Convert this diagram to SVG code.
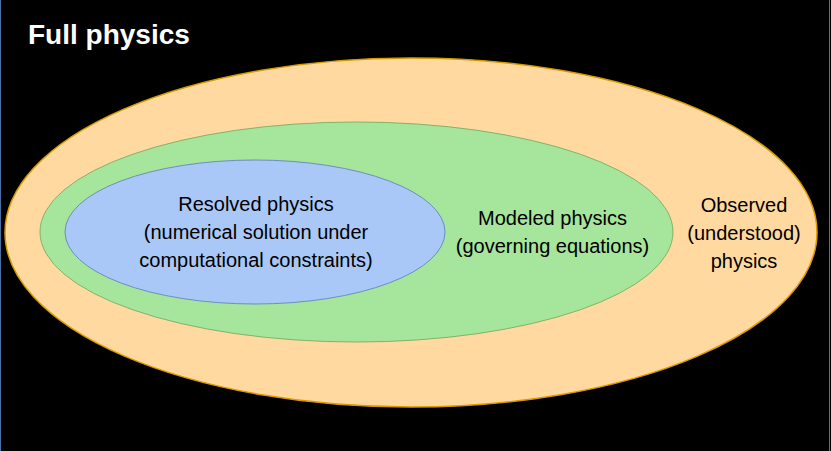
<svg xmlns="http://www.w3.org/2000/svg" width="831" height="451" viewBox="0 0 831 451">
<style>
text{font-family:"Liberation Sans",Arial,sans-serif;font-size:20px;fill:#000;text-anchor:middle}
.title{font-size:28px;font-weight:bold;fill:#fff;text-anchor:start}
</style>
<rect x="0" y="0" width="831" height="451" fill="#000"/>
<line x1="0.5" y1="0" x2="0.5" y2="451" stroke="#4a6fa5" stroke-width="1"/>
<line x1="829.5" y1="0" x2="829.5" y2="451" stroke="#4a6fa5" stroke-width="1"/>
<text class="title" x="28" y="44">Full physics</text>
<g id="observed">
<ellipse cx="411" cy="232.5" rx="406" ry="174.5" fill="#ffd9a0" stroke="#d79b00" stroke-width="1.5"/>
<text x="744" y="212">Observed</text>
<text x="744" y="240">(understood)</text>
<text x="744" y="268">physics</text>
</g>
<g id="modeled">
<ellipse cx="356.5" cy="232" rx="316.5" ry="110" fill="#a6e59c" stroke="#82b366" stroke-width="1"/>
<text x="552.5" y="225">Modeled physics</text>
<text x="552.5" y="253">(governing equations)</text>
</g>
<g id="resolved">
<ellipse cx="255" cy="232" rx="190" ry="72" fill="#a9c8f8" stroke="#6c8ebf" stroke-width="1"/>
<text x="256" y="211">Resolved physics</text>
<text x="256" y="239">(numerical solution under</text>
<text x="256" y="267">computational constraints)</text>
</g>
<g id="connectors"/>
</svg>
